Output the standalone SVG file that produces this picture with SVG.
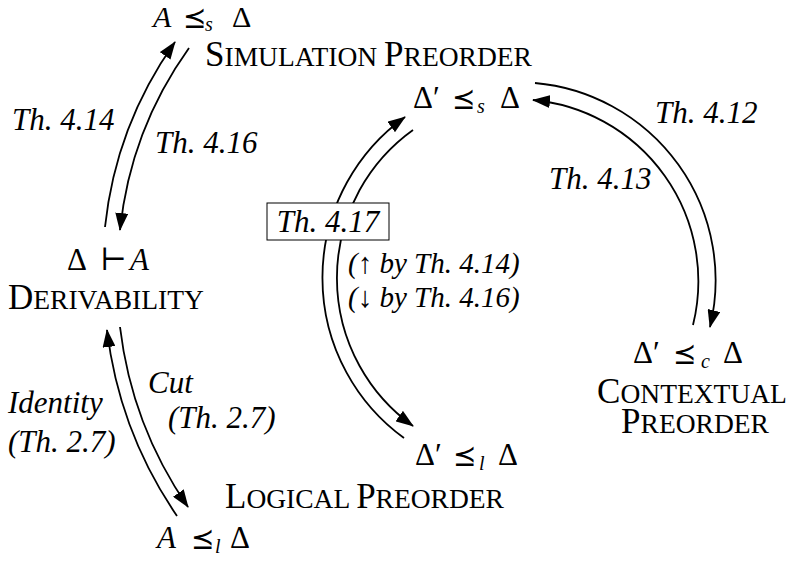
<svg xmlns="http://www.w3.org/2000/svg" width="787" height="561" viewBox="0 0 787 561">
<style>
text{font-family:"Liberation Serif","DejaVu Serif",serif;fill:#000}
.m{font-size:31px}
.it{font-style:italic}
.rel{font-family:"DejaVu Sans","DejaVu Serif",sans-serif;font-size:28px}
.sub{font-style:italic;font-size:20px}
.nm{font-size:35px}
.sc{font-size:27.5px}
.lb{font-size:31px;font-style:italic}
.lbs{font-size:29px;font-style:italic}
.c{fill:none;stroke:#000;stroke-width:1.8}
</style>
<defs>
<marker id="ah" viewBox="0 0 18 13" refX="17" refY="6.5" markerWidth="18" markerHeight="13" markerUnits="userSpaceOnUse" orient="auto"><path d="M0,0 L18,6.5 L0,13 Z" fill="#000"/></marker>
</defs>
<g id="connectors">
<path class="c" d="M105,227 A391,391 0 0 1 175,42" marker-end="url(#ah)"/>
<path class="c" d="M189,48 A380,380 0 0 0 120,230" marker-end="url(#ah)"/>
<path class="c" d="M177,516 A417,417 0 0 1 107,330" marker-end="url(#ah)"/>
<path class="c" d="M120,327 A400,400 0 0 0 188,507" marker-end="url(#ah)"/>
<path class="c" d="M404,438 A198,198 0 0 1 405,117" marker-end="url(#ah)"/>
<path class="c" d="M413,130 A182,182 0 0 0 413,426" marker-end="url(#ah)"/>
<path class="c" d="M535,83 A198,198 0 0 1 710,327" marker-end="url(#ah)"/>
<path class="c" d="M693,325 A182,182 0 0 0 533,100" marker-end="url(#ah)"/>
</g>
<g id="sim-A">
<text class="m" y="27" style="font-size:30px"><tspan class="it" x="153">A</tspan><tspan class="rel" x="183">⪯</tspan><tspan class="sub" x="205" dy="4">s</tspan><tspan x="232" dy="-4">Δ</tspan></text>
<text class="nm" x="205" y="66">S<tspan class="sc">IMULATION </tspan>P<tspan class="sc">REORDER</tspan></text>
</g>
<g id="sim-D">
<text class="m" y="108"><tspan x="413">Δ′</tspan><tspan class="rel" x="452">⪯</tspan><tspan class="sub" x="477" dy="5">s</tspan><tspan x="500" dy="-5">Δ</tspan></text>
</g>
<g id="deriv">
<text class="m" y="270"><tspan x="67">Δ</tspan><tspan x="100">⊢</tspan><tspan class="it" x="130">A</tspan></text>
<text class="nm" x="8" y="309">D<tspan class="sc">ERIVABILITY</tspan></text>
</g>
<g id="ctx">
<text class="m" y="363"><tspan x="633">Δ′</tspan><tspan class="rel" x="673">⪯</tspan><tspan class="sub" x="701" dy="5">c</tspan><tspan x="723" dy="-5">Δ</tspan></text>
<text class="nm" x="692" y="403" text-anchor="middle">C<tspan class="sc">ONTEXTUAL</tspan></text>
<text class="nm" x="695" y="433" text-anchor="middle">P<tspan class="sc">REORDER</tspan></text>
</g>
<g id="log-D">
<text class="m" y="465"><tspan x="415">Δ′</tspan><tspan class="rel" x="453">⪯</tspan><tspan class="sub" x="479" dy="5">l</tspan><tspan x="498" dy="-5">Δ</tspan></text>
</g>
<g id="log-A">
<text class="nm" x="225" y="508">L<tspan class="sc">OGICAL </tspan>P<tspan class="sc">REORDER</tspan></text>
<text class="m" y="548"><tspan class="it" x="157">A</tspan><tspan class="rel" x="191">⪯</tspan><tspan class="sub" x="215" dy="5">l</tspan><tspan x="230" dy="-5">Δ</tspan></text>
</g>
<g id="labels">
<text class="lb" x="12" y="130">Th. 4.14</text>
<text class="lb" x="155" y="153">Th. 4.16</text>
<text class="lb" x="655" y="123">Th. 4.12</text>
<text class="lb" x="549" y="189">Th. 4.13</text>
<text class="lbs" x="348" y="273">(↑ by Th. 4.14)</text>
<text class="lbs" x="348" y="307">(↓ by Th. 4.16)</text>
<text class="lb" x="148" y="393">Cut</text>
<text class="lb" x="168" y="428">(Th. 2.7)</text>
<text class="lb" x="8" y="413">Identity</text>
<text class="lb" x="8" y="452">(Th. 2.7)</text>
</g>
<g id="box417">
<rect x="267" y="203" width="122" height="37" fill="#fff" stroke="#000" stroke-width="1"/>
<text class="lb" x="328" y="232" text-anchor="middle">Th. 4.17</text>
</g>
</svg>
